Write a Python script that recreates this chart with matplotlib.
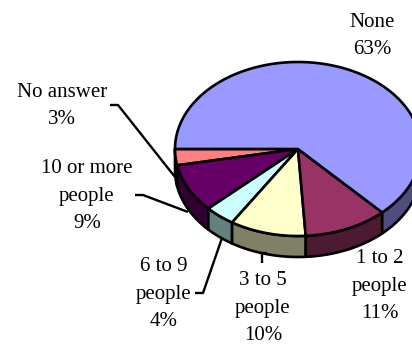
import numpy as np
import matplotlib
matplotlib.use('Agg')
import matplotlib.pyplot as plt

# slices, counter-clockwise starting from the left of the pie
categories = ['No answer', '10 or more\npeople', '6 to 9\npeople', '3 to 5\npeople', '1 to 2\npeople', 'None']
values = [3, 9, 4, 10, 11, 63]
top_colors = ['#FF8080', '#660066', '#CCFFFF', '#FFFFCC', '#993366', '#9999FF']
side_colors = ['#804040', '#330033', '#668080', '#808066', '#4D1A33', '#4D4D80']

# label centres and leader lines, in pixels
label_pos = [(62, 106), (87, 196), (164, 294), (263, 308), (380, 286), (372, 36)]
leaders = [
    [(110, 105), (118, 105), (175, 177)],
    [(135, 195), (143, 195), (188, 212)],
    [(195, 293), (203, 293), (222, 238)],
    [(267, 253), (262, 253), (262, 263)],
]

cx, cy = 298, 149
rx, ry = 123, 87
depth = 21

plt.rcParams['font.family'] = ['Liberation Serif', 'DejaVu Serif']
fig = plt.figure(figsize=(4.12, 3.46), dpi=100)
ax = fig.add_axes([0, 0, 1, 1])
ax.set_xlim(0, 412)
ax.set_ylim(346, 0)
ax.axis('off')

edges = 180 + np.cumsum([0] + values) * 3.6

# side wall: only the front half of the rim shows
for i in range(len(values)):
    a0, a1 = edges[i], min(edges[i + 1], 360)
    t = np.radians(np.linspace(a0, a1, 80))
    x = cx + rx * np.cos(t)
    y = cy - ry * np.sin(t)
    ax.fill(np.r_[x, x[::-1]], np.r_[y, y[::-1] + depth], fc=side_colors[i], ec='black', lw=1.9, joinstyle='round', zorder=2)

# top face
for i in range(len(values)):
    t = np.radians(np.linspace(edges[i], edges[i + 1], 200))
    x = np.r_[cx, cx + rx * np.cos(t)]
    y = np.r_[cy, cy - ry * np.sin(t)]
    ax.fill(x, y, fc=top_colors[i], ec='black', lw=1.9, joinstyle='round', zorder=3)

for pts in leaders:
    xs, ys = zip(*pts)
    ax.plot(xs, ys, color='black', lw=1.7, zorder=4, solid_capstyle='butt')

for name, v, (lx, ly) in zip(categories, values, label_pos):
    ax.text(lx, ly, f'{name}\n{v}%', ha='center', va='center', fontsize=15, linespacing=1.62, color='black', zorder=5)

fig.savefig('out.png', dpi=100)
